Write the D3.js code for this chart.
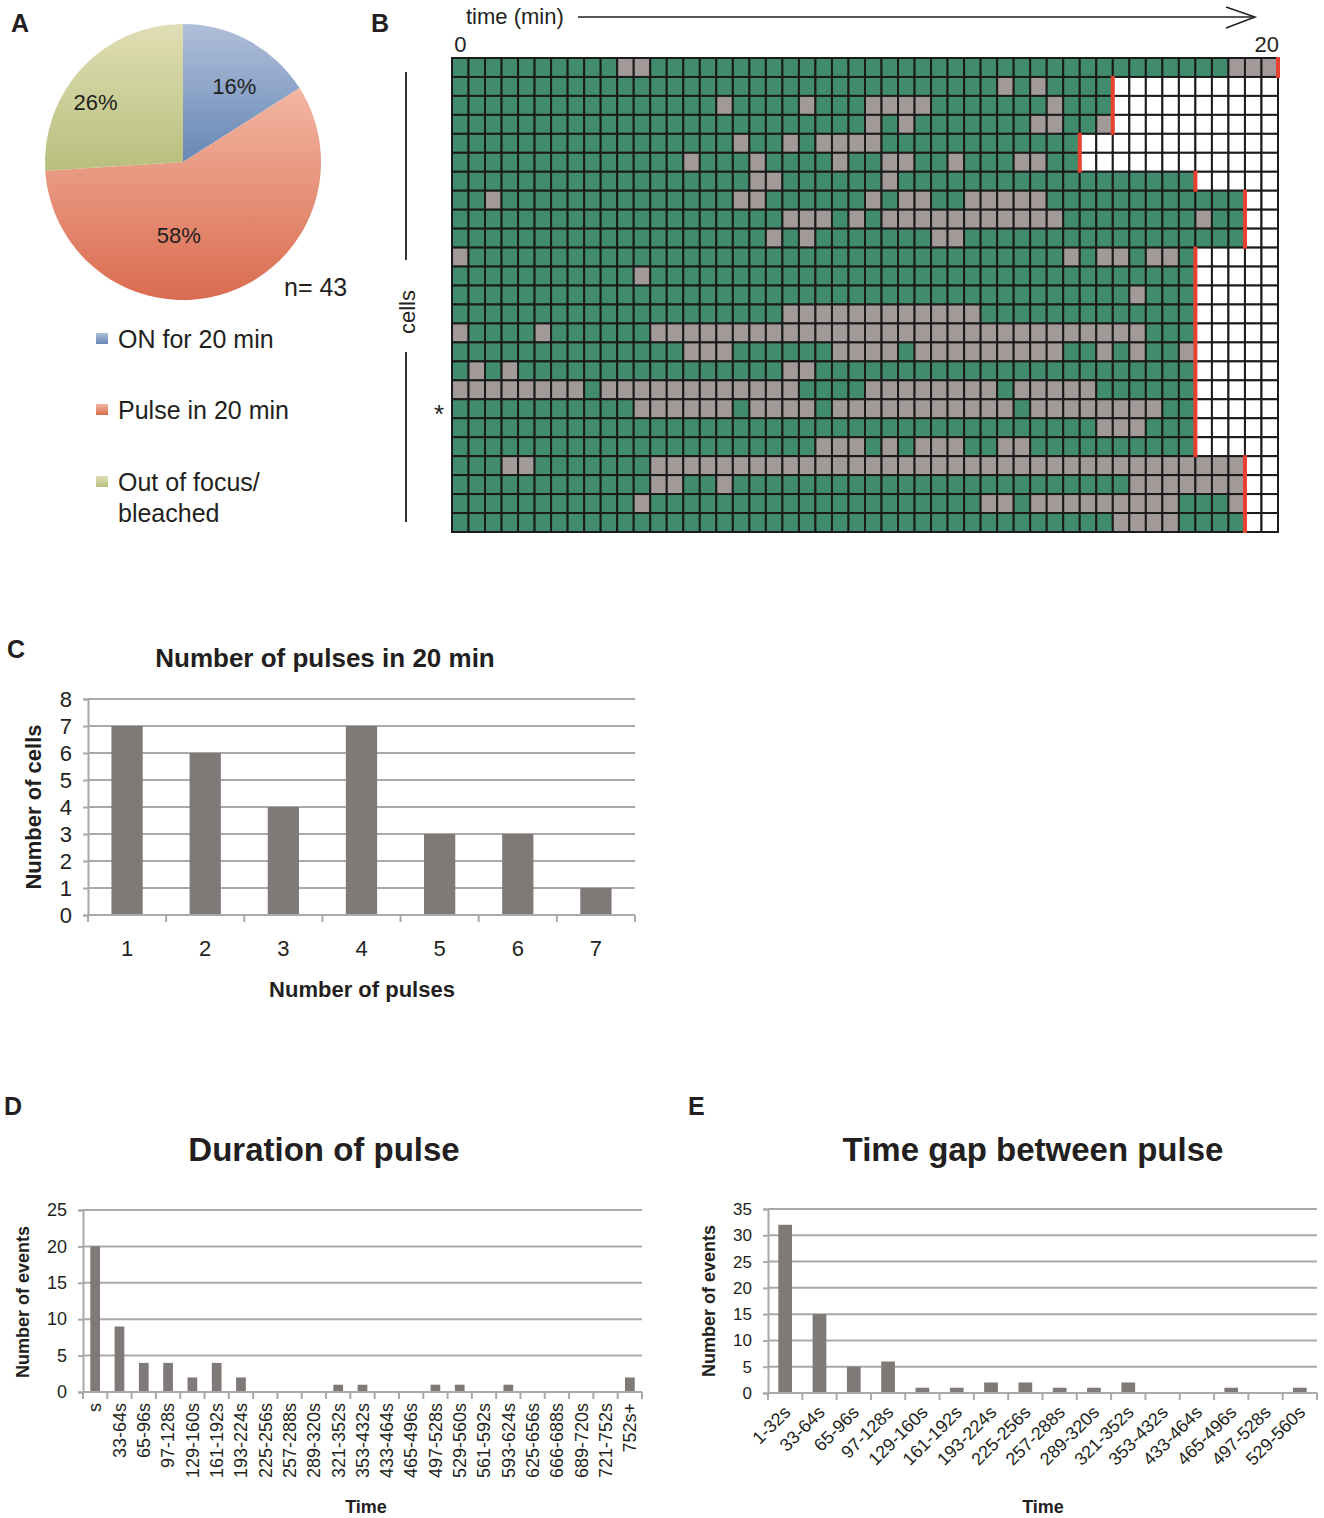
<!DOCTYPE html>
<html>
<head>
<meta charset="utf-8">
<script src="https://cdn.jsdelivr.net/npm/d3@7"></script>
<style>
  body { margin: 0; background: #fff; }
  svg text { font-family: "Liberation Sans", Arial, sans-serif; fill: #231f20; }
</style>
</head>
<body>
<div id="chart"></div>
<script>
// ---- data ----
// A: pie
const pieCategories = ['ON for 20 min', 'Pulse in 20 min', 'Out of focus/ bleached'];
const pieValues = [16, 58, 26];
const pieN = 43;

// B: per-cell time course, 50 frames x 25 cells
// gray runs [from, to] (inclusive frame indices); frames observed before the red line
const grayRuns = [
  [[10, 11], [47, 49]],
  [[33, 33], [35, 35]],
  [[16, 16], [21, 21], [25, 28], [36, 36]],
  [[25, 25], [27, 27], [35, 36], [39, 39]],
  [[17, 17], [20, 20], [22, 25]],
  [[14, 14], [18, 18], [23, 23], [26, 27], [30, 30], [34, 35]],
  [[18, 19], [26, 26]],
  [[2, 2], [17, 18], [25, 25], [27, 28], [31, 35]],
  [[20, 22], [24, 24], [26, 36], [45, 45]],
  [[19, 19], [21, 21], [29, 30]],
  [[0, 0], [37, 37], [39, 40], [42, 43]],
  [[11, 11]],
  [[41, 41]],
  [[20, 31]],
  [[0, 0], [5, 5], [12, 41]],
  [[14, 16], [23, 26], [28, 36], [39, 39], [41, 41], [44, 44]],
  [[1, 1], [3, 3], [20, 21]],
  [[0, 7], [9, 20], [25, 32], [34, 38]],
  [[11, 16], [18, 21], [23, 33], [35, 42]],
  [[39, 41]],
  [[22, 24], [26, 26], [28, 30], [33, 34]],
  [[3, 4], [12, 47]],
  [[12, 13], [16, 16], [41, 47]],
  [[11, 11], [32, 33], [35, 43], [47, 47]],
  [[40, 43]]
];
const observedFrames = [50, 40, 40, 40, 38, 38, 45, 48, 48, 48, 45, 45, 45, 45, 45, 45, 45, 45, 45, 45, 45, 48, 48, 48, 48];
const totalFrames = 50;
const starredCell = 18;

// C: number of pulses
const pulseCounts = ['1', '2', '3', '4', '5', '6', '7'];
const cellsPerCount = [7, 6, 4, 7, 3, 3, 1];

// D: duration of pulse
const durationBins = ['s', '33-64s', '65-96s', '97-128s', '129-160s', '161-192s', '193-224s', '225-256s',
  '257-288s', '289-320s', '321-352s', '353-432s', '433-464s', '465-496s', '497-528s', '529-560s',
  '561-592s', '593-624s', '625-656s', '666-688s', '689-720s', '721-752s', '752s+'];
const durationEvents = [20, 9, 4, 4, 2, 4, 2, 0, 0, 0, 1, 1, 0, 0, 1, 1, 0, 1, 0, 0, 0, 0, 2];

// E: time gap between pulses
const gapBins = ['1-32s', '33-64s', '65-96s', '97-128s', '129-160s', '161-192s', '193-224s', '225-256s',
  '257-288s', '289-320s', '321-352s', '353-432s', '433-464s', '465-496s', '497-528s', '529-560s'];
const gapEvents = [32, 15, 5, 6, 1, 1, 2, 2, 1, 1, 2, 0, 0, 1, 0, 1];

// ---- style ----
const TEXT = '#231f20';
const BAR = '#7f7977';
const GRID = '#a9a9a9';
const GREEN = '#408c6c';
const GRAY = '#a19a99';
const RED = '#e8412f';

const svg = d3.select('#chart').append('svg')
  .attr('width', 1324).attr('height', 1518);

function letter(txt, x, y) {
  svg.append('text').attr('x', x).attr('y', y)
    .attr('font-size', 25).attr('font-weight', 'bold').text(txt);
}

// ================= A: pie =================
letter('A', 11, 32);
const defs = svg.append('defs');
const pieGrad = [['#b0bfd9', '#6688b6'], ['#f3b7a3', '#d96b4f'], ['#e0deb5', '#b8bf7d']];
pieGrad.forEach((c, i) => {
  const lg = defs.append('linearGradient').attr('id', 'pg' + i)
    .attr('x1', 0).attr('y1', 0).attr('x2', 0).attr('y2', 1);
  lg.append('stop').attr('offset', '0%').attr('stop-color', c[0]);
  lg.append('stop').attr('offset', '100%').attr('stop-color', c[1]);
});

const pieR = 138;
const pieG = svg.append('g').attr('transform', 'translate(183,162)');
const arcs = d3.pie().sort(null)(pieValues);
const arc = d3.arc().innerRadius(0).outerRadius(pieR);
pieG.selectAll('path').data(arcs).join('path')
  .attr('d', arc).attr('fill', (d, i) => `url(#pg${i})`);

// excel-like label placement: centroid plus a small nudge
const labelArc = d3.arc().innerRadius(0).outerRadius(pieR * 1.3);
const labelNudge = [[8, 3], [-32, -12], [-22, 1]];
pieG.selectAll('text.pct').data(arcs).join('text').attr('class', 'pct')
  .attr('transform', (d, i) => {
    const c = labelArc.centroid(d);
    return `translate(${c[0] + labelNudge[i][0]},${c[1] + labelNudge[i][1]})`;
  })
  .attr('text-anchor', 'middle').attr('dy', '0.36em')
  .attr('font-size', 22)
  .text(d => d.value + '%');

svg.append('text').attr('x', 284).attr('y', 296).attr('font-size', 25).text('n= ' + pieN);

const legend = svg.append('g');
const legendY = [339, 410, 482];
pieCategories.forEach((name, i) => {
  legend.append('rect').attr('x', 96).attr('y', legendY[i] - 6).attr('width', 12).attr('height', 11)
    .attr('fill', `url(#pg${i})`);
  const words = name.split(' bleached');
  const t = legend.append('text').attr('x', 118).attr('y', legendY[i] + 9).attr('font-size', 25);
  t.append('tspan').text(words[0]);
  if (words.length > 1) t.append('tspan').attr('x', 118).attr('dy', 31).text('bleached');
});

// ================= B: grid =================
letter('B', 371, 32);
const gx = d3.scaleLinear().domain([0, totalFrames]).range([452, 1278]);
const gy = d3.scaleBand().domain(d3.range(observedFrames.length)).range([58, 532]);

const cells = [];
grayRuns.forEach((runs, r) => {
  for (let c = 0; c < totalFrames; c++) {
    let state = 'on';
    if (c >= observedFrames[r]) state = 'none';
    else if (runs.some(([a, b]) => c >= a && c <= b)) state = 'off';
    cells.push({ r, c, state });
  }
});
const stateFill = { on: GREEN, off: GRAY, none: '#fff' };

const gridG = svg.append('g');
gridG.selectAll('rect').data(cells).join('rect')
  .attr('x', d => gx(d.c)).attr('y', d => gy(d.r))
  .attr('width', d => gx(d.c + 1) - gx(d.c)).attr('height', gy.bandwidth())
  .attr('fill', d => stateFill[d.state])
  .attr('stroke', '#1b1b1b').attr('stroke-width', 2);

gridG.selectAll('line.end').data(observedFrames).join('line').attr('class', 'end')
  .attr('x1', d => gx(d)).attr('x2', d => gx(d))
  .attr('y1', (d, i) => gy(i) - 1).attr('y2', (d, i) => gy(i) + gy.bandwidth() + 1)
  .attr('stroke', RED).attr('stroke-width', 4);

// time arrow
svg.append('text').attr('x', 466).attr('y', 24).attr('font-size', 22).text('time (min)');
svg.append('line').attr('x1', 578).attr('x2', 1254).attr('y1', 17).attr('y2', 17)
  .attr('stroke', TEXT).attr('stroke-width', 1.5);
svg.append('path').attr('d', 'M1226,7 L1255,17 L1226,28')
  .attr('fill', 'none').attr('stroke', TEXT).attr('stroke-width', 1.5);
svg.append('text').attr('x', (gx(0) + gx(1)) / 2).attr('y', 52).attr('text-anchor', 'middle')
  .attr('font-size', 22).text('0');
svg.append('text').attr('x', (gx(totalFrames - 1) + gx(totalFrames)) / 2 - 3).attr('y', 52)
  .attr('text-anchor', 'middle').attr('font-size', 22).text('20');

// cells axis
svg.append('line').attr('x1', 406).attr('x2', 406).attr('y1', 72).attr('y2', 260)
  .attr('stroke', '#333').attr('stroke-width', 2);
svg.append('line').attr('x1', 406).attr('x2', 406).attr('y1', 352).attr('y2', 522)
  .attr('stroke', '#333').attr('stroke-width', 2);
svg.append('text').attr('transform', 'translate(415,312) rotate(-90)')
  .attr('text-anchor', 'middle').attr('font-size', 22).text('cells');
svg.append('text').attr('x', 439).attr('y', gy(starredCell) + gy.bandwidth() / 2 + 14)
  .attr('text-anchor', 'middle').attr('font-size', 26).text('*');

// ================= bar charts =================
function barChart(o) {
  const g = svg.append('g');
  const n = o.categories.length;
  const x = d3.scaleBand().domain(o.categories).range([o.left, o.right])
    .paddingInner(0.6).paddingOuter(0.3);
  const edge = d3.scaleLinear().domain([0, n]).range([o.left, o.right]);
  const y = d3.scaleLinear().domain([0, o.yMax]).range([o.bottom, o.top]);
  const ticks = d3.range(0, o.yMax + o.step / 2, o.step);

  g.append('g').selectAll('line').data(ticks.filter(t => t > 0)).join('line')
    .attr('x1', o.left).attr('x2', o.right).attr('y1', d => y(d)).attr('y2', d => y(d))
    .attr('stroke', GRID).attr('stroke-width', 2);

  const ya = g.append('g').attr('transform', `translate(${o.left},0)`)
    .call(d3.axisLeft(y).tickValues(ticks).tickSize(5).tickPadding(o.tickPad).tickFormat(d3.format('d')));
  ya.attr('font-family', null).attr('font-size', o.tickFont);
  ya.select('.domain').attr('stroke', GRID).attr('stroke-width', 2);
  ya.selectAll('.tick line').attr('stroke', GRID).attr('stroke-width', 2);
  ya.selectAll('.tick text').attr('fill', TEXT);

  g.append('g').selectAll('rect').data(o.values).join('rect')
    .attr('x', (d, i) => x(o.categories[i])).attr('width', x.bandwidth())
    .attr('y', d => y(d)).attr('height', d => y(0) - y(d))
    .attr('fill', BAR);

  // category axis: baseline and boundary ticks
  g.append('line').attr('x1', o.left).attr('x2', o.right).attr('y1', y(0)).attr('y2', y(0))
    .attr('stroke', GRID).attr('stroke-width', 2);
  g.append('g').selectAll('line').data(d3.range(n + 1)).join('line')
    .attr('x1', d => edge(d)).attr('x2', d => edge(d))
    .attr('y1', y(0)).attr('y2', y(0) + 7)
    .attr('stroke', GRID).attr('stroke-width', 2);

  const xl = g.append('g').selectAll('text').data(o.categories).join('text')
    .attr('font-size', o.labelFont).text(d => d);
  const cx = d => x(d) + x.bandwidth() / 2;
  if (o.rotate === 0) {
    xl.attr('x', cx).attr('y', y(0) + o.labelGap).attr('text-anchor', 'middle');
  } else if (o.rotate === -90) {
    xl.attr('transform', d => `translate(${cx(d)},${y(0) + o.labelGap}) rotate(-90)`)
      .attr('text-anchor', 'end').attr('dy', '0.35em');
  } else {
    xl.attr('transform', d => `translate(${cx(d) + 2},${y(0) + o.labelGap}) rotate(${o.rotate})`)
      .attr('text-anchor', 'end').attr('dy', '0.35em');
  }

  svg.append('text').attr('x', o.titleX).attr('y', o.titleY).attr('text-anchor', 'middle')
    .attr('font-size', o.titleFont).attr('font-weight', 'bold').text(o.title);
  svg.append('text').attr('transform', `translate(${o.yLabelX},${(o.top + o.bottom) / 2 + o.yLabelShift}) rotate(-90)`)
    .attr('text-anchor', 'middle').attr('font-size', o.axisFont).attr('font-weight', 'bold').text(o.yLabel);
  svg.append('text').attr('x', o.xLabelX).attr('y', o.xLabelY).attr('text-anchor', 'middle')
    .attr('font-size', o.axisFont).attr('font-weight', 'bold').text(o.xLabel);
}

letter('C', 7, 658);
barChart({
  categories: pulseCounts, values: cellsPerCount, yMax: 8, step: 1,
  left: 88, right: 635, top: 699, bottom: 915,
  tickFont: 22, tickPad: 11, labelFont: 22, labelGap: 41, rotate: 0,
  title: 'Number of pulses in 20 min', titleX: 325, titleY: 667, titleFont: 26,
  yLabel: 'Number of cells', yLabelX: 41, yLabelShift: 0,
  xLabel: 'Number of pulses', xLabelX: 362, xLabelY: 997, axisFont: 22
});

letter('D', 4, 1115);
barChart({
  categories: durationBins, values: durationEvents, yMax: 25, step: 5,
  left: 83, right: 642, top: 1210, bottom: 1392,
  tickFont: 18, tickPad: 11, labelFont: 18, labelGap: 11, rotate: -90,
  title: 'Duration of pulse', titleX: 324, titleY: 1161, titleFont: 33,
  yLabel: 'Number of events', yLabelX: 29, yLabelShift: 1,
  xLabel: 'Time', xLabelX: 366, xLabelY: 1513, axisFont: 18
});

letter('E', 688, 1115);
barChart({
  categories: gapBins, values: gapEvents, yMax: 35, step: 5,
  left: 768, right: 1317, top: 1209, bottom: 1393,
  tickFont: 17, tickPad: 11, labelFont: 18, labelGap: 16, rotate: -45,
  title: 'Time gap between pulse', titleX: 1033, titleY: 1161, titleFont: 33,
  yLabel: 'Number of events', yLabelX: 715, yLabelShift: 0,
  xLabel: 'Time', xLabelX: 1043, xLabelY: 1513, axisFont: 18
});
</script>
</body>
</html>
